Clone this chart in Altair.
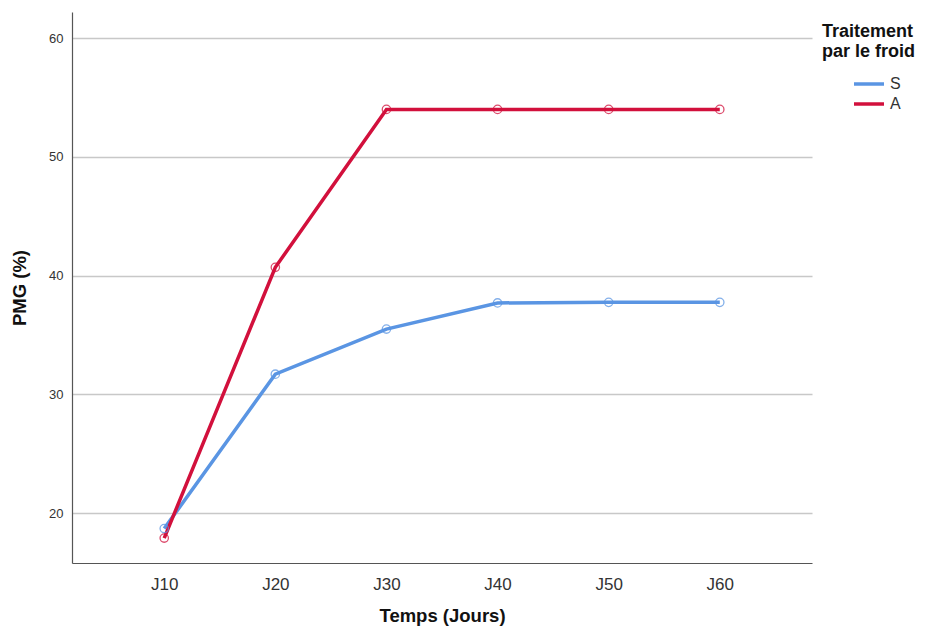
import altair as alt
import pandas as pd

jours = ["J10", "J20", "J30", "J40", "J50", "J60"]
s_values = [18.7, 31.7, 35.5, 37.7, 37.75, 37.75]
a_values = [17.9, 40.7, 54.0, 54.0, 54.0, 54.0]
series = ["S", "A"]
colors = ["#5a95e3", "#d2103c"]
y_ticks = [20, 30, 40, 50, 60]

rows = []
for j, v in zip(jours, s_values):
    rows.append({"Temps": j, "PMG": v, "Traitement": "S"})
for j, v in zip(jours, a_values):
    rows.append({"Temps": j, "PMG": v, "Traitement": "A"})
df = pd.DataFrame(rows)

FONT = "Liberation Sans"

x = alt.X("Temps:N", sort=jours, title="Temps (Jours)",
          scale=alt.Scale(type="point", padding=0.83),
          axis=alt.Axis(labelAngle=0, grid=False, ticks=False, labelFontSize=17,
                        labelColor="#333333", labelPadding=13, titleFontSize=18.5,
                        titleFontWeight="bold", titlePadding=14, titleColor="#111111",
                        domainColor="#555555", domainWidth=1.2, labelFont=FONT,
                        titleFont=FONT))
y = alt.Y("PMG:Q", title="PMG (%)",
          scale=alt.Scale(domain=[15.8, 62.2], nice=False, zero=False),
          axis=alt.Axis(values=y_ticks, ticks=False, labelFontSize=13, labelColor="#333333",
                        labelPadding=9, titleFontSize=18.5, titleFontWeight="bold",
                        titlePadding=19, titleColor="#111111", gridColor="#c8c8c8",
                        gridWidth=1.5, domainColor="#555555", domainWidth=1.2,
                        labelFont=FONT, titleFont=FONT))
color = alt.Color("Traitement:N", scale=alt.Scale(domain=series, range=colors),
                  legend=alt.Legend(title=["Traitement", "par le froid"], orient="none",
                                    legendX=750, legendY=11, padding=0,
                                    symbolType="M-1.5,0H1.5", symbolStrokeWidth=3.5,
                                    symbolSize=400, symbolOffset=35, labelFontSize=16,
                                    labelColor="#333333", titleFontSize=18,
                                    titleFontWeight="bold", titleLineHeight=20,
                                    titleColor="#111111", titlePadding=11,
                                    rowPadding=-1, labelOffset=9,
                                    labelFont=FONT, titleFont=FONT))

lines = alt.Chart(df).mark_line(strokeWidth=3.5).encode(x=x, y=y, color=color)
points = alt.Chart(df).mark_point(filled=False, size=70, strokeWidth=1.3, opacity=0.75).encode(
    x=x, y=y, color=alt.Color("Traitement:N", scale=alt.Scale(domain=series, range=colors), legend=None))

chart = (lines + points).properties(
    width=740, height=551,
    autosize=alt.AutoSizeParams(type="none"),
    padding={"left": 64, "top": 4, "right": 111, "bottom": 65},
).configure_view(stroke=None)

chart.save("out.html", embed_options={"renderer": "svg", "actions": False})
